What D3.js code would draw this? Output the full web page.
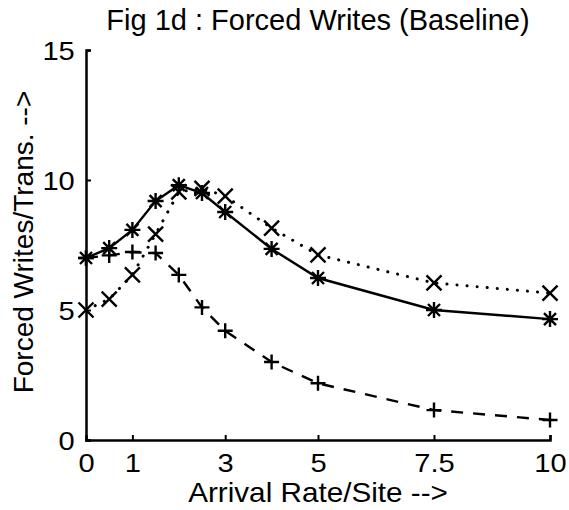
<!DOCTYPE html>
<html>
<head>
<meta charset="utf-8">
<script src="https://cdn.jsdelivr.net/npm/d3@7"></script>
<style>
  body { margin: 0; background: #fff; }
  text { font-family: "Liberation Sans", Arial, sans-serif; fill: #000; }
</style>
</head>
<body>
<div id="chart"></div>
<script>
(function () {

  const margin = { top: 50, right: 19, bottom: 70, left: 86 }
  const width = 569 - margin.left - margin.right
  const height = 510 - margin.top - margin.bottom

  // arrival rates per site
  const rates = [0, 0.5, 1, 1.5, 2, 2.5, 3, 4, 5, 7.5, 10]
  // three protocol series
  const starSeries = [7.0, 7.38, 8.08, 9.19, 9.8, 9.5, 8.77, 7.35, 6.23, 5.0, 4.65]
  const crossSeries = [5.0, 5.42, 6.35, 7.92, 9.54, 9.68, 9.38, 8.15, 7.12, 6.04, 5.65]
  const plusSeries = [7.0, 7.1, 7.23, 7.19, 6.35, 5.1, 4.2, 3.0, 2.18, 1.15, 0.77]

  const xTicks = [0, 1, 3, 5, 7.5, 10]
  const yTicks = [0, 5, 10, 15]

  const svg = d3.select("#chart").append("svg")
      .attr("width", width + margin.left + margin.right)
      .attr("height", height + margin.top + margin.bottom)
      .append("g")
      .attr("transform", "translate(" + margin.left + "," + margin.top + ")")

  const x = d3.scaleLinear().domain([0, 10]).range([0, width])
  const y = d3.scaleLinear().domain([0, 15]).range([height, 0])

  const line = d3.line()
    .x(d => x(d[0]))
    .y(d => y(d[1]))

  const series = [
    { values: starSeries, dash: null, marker: 'star' },
    { values: crossSeries, dash: '0.1 10', marker: 'cross' },
    { values: plusSeries, dash: '12 10', marker: 'plus' }
  ]

  series.forEach(s => {
    const pts = rates.map((r, i) => [r, s.values[i]])
    svg.append('path')
      .datum(pts)
      .attr('d', line)
      .attr('fill', 'none')
      .attr('stroke', '#000')
      .attr('stroke-width', s.marker === 'cross' ? 3 : 2.4)
      .attr('stroke-linecap', s.marker === 'cross' ? 'round' : 'butt')
      .attr('stroke-dasharray', s.dash)

    // markers drawn as small paths
    svg.selectAll('.m-' + s.marker)
      .data(pts)
      .join('path')
      .attr('class', 'm-' + s.marker)
      .attr('transform', d => `translate(${x(d[0])},${y(d[1])})`)
      .attr('d', () => {
        const r = 7.5
        if (s.marker === 'plus') return 'M-7.5,0H7.5M0,-7.5V7.5'
        if (s.marker === 'cross') return `M${-r},${-r}L${r},${r}M${-r},${r}L${r},${-r}`
        return 'M-8,0H8M0,-8V8M-6,-6L6,6M-6,6L6,-6'
      })
      .attr('stroke', '#000')
      .attr('stroke-width', 2.4)
      .attr('fill', 'none')
  })

  // axes with inward ticks, like the old plot
  const xAxis = d3.axisBottom(x).tickValues(xTicks).tickSize(-5).tickPadding(14)
    .tickFormat(d => d)
  svg.append('g')
    .attr('class', 'axis x-axis')
    .attr('transform', 'translate(0,' + height + ')')
    .call(xAxis)

  const yAxis = d3.axisLeft(y).tickValues(yTicks).tickSize(-5).tickPadding(10)
  svg.append('g')
    .attr('class', 'axis y-axis')
    .call(yAxis)

  svg.selectAll('.axis path').attr('stroke', '#000').attr('stroke-width', 2.5)
  svg.selectAll('.axis line').attr('stroke', '#000').attr('stroke-width', 2)
  svg.selectAll('.axis text')
    .attr('font-size', 26)
    .attr('font-family', '"Liberation Sans", Arial, sans-serif')
    .attr('transform', 'scale(1.12,1)')
  svg.selectAll('.x-axis text').attr('dy', '0.71em')
  svg.selectAll('.y-axis text').attr('dy', '0.36em')

  svg.append('text')
    .text('Fig 1d : Forced Writes (Baseline)')
    .attr('x', width / 2)
    .attr('y', -20)
    .attr('text-anchor', 'middle')
    .attr('font-size', 29)

  svg.append('text')
    .text('Arrival Rate/Site -->')
    .attr('transform', `translate(${width / 2},${height + 62}) scale(1.06,1)`)
    .attr('text-anchor', 'middle')
    .attr('font-size', 28)

  svg.append('text')
    .text('Forced Writes/Trans. -->')
    .attr('transform', `translate(-53,192) rotate(-90)`)
    .attr('text-anchor', 'middle')
    .attr('font-size', 28)

})();
</script>
</body>
</html>
